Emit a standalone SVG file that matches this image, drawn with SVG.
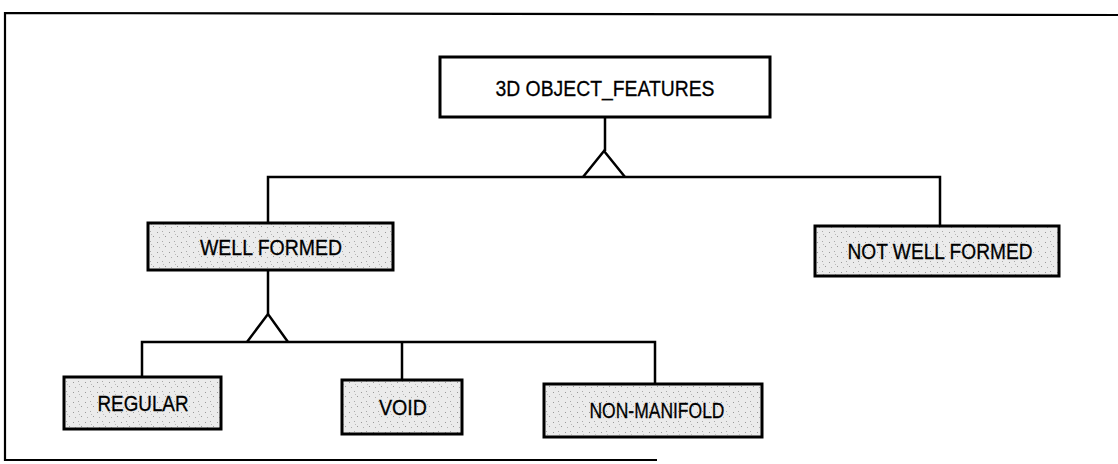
<svg xmlns="http://www.w3.org/2000/svg" width="1118" height="464" viewBox="0 0 1118 464">
  <defs>
    <pattern id="stipple" width="12" height="10" patternUnits="userSpaceOnUse">
      <rect width="12" height="10" fill="#ebebeb"/>
      <rect x="1" y="2" width="1" height="1" fill="#999"/>
      <rect x="6" y="1" width="1" height="1" fill="#aaa"/>
      <rect x="9" y="6" width="1" height="1" fill="#999"/>
      <rect x="3" y="7" width="1" height="1" fill="#b0b0b0"/>
      <rect x="7" y="4" width="1" height="1" fill="#bbb"/>
    </pattern>
    <style>
      .box { stroke: #000; stroke-width: 3; }
      .white { fill: #fff; }
      .gray { fill: url(#stipple); }
      .lbl { font-family: "Liberation Sans", Arial, sans-serif; font-size: 22px; fill: #000; stroke: #000; stroke-width: 0.3; text-anchor: middle; }
      .line { stroke: #000; stroke-width: 2.5; fill: none; }
      .frame { stroke: #000; stroke-width: 2.2; fill: none; }
    </style>
  </defs>
  <rect width="1118" height="464" fill="#fff"/>
  <path class="frame" d="M1118,15 L5,13 L5,460 L657,460"/>

  <g id="connectors">
    <path class="line" d="M605,117 V151"/>
    <path class="line" d="M583,177 L604,151 L625,177"/>
    <path class="line" d="M268,223 V177 H940 V226"/>
    <path class="line" d="M268,270 V314"/>
    <path class="line" d="M247,342 L268,314 L288,342"/>
    <path class="line" d="M142,377 V342 H655 V384"/>
    <path class="line" d="M402,342 V380"/>
  </g>

  <g id="node-3d-object-features">
    <rect class="box white" x="440" y="57" width="330" height="60"/>
    <text class="lbl" x="605" y="96" textLength="219" lengthAdjust="spacingAndGlyphs">3D OBJECT_FEATURES</text>
  </g>
  <g id="node-well-formed">
    <rect class="box gray" x="148" y="223" width="245" height="47"/>
    <text class="lbl" x="271" y="255" textLength="142" lengthAdjust="spacingAndGlyphs">WELL FORMED</text>
  </g>
  <g id="node-not-well-formed">
    <rect class="box gray" x="815" y="226" width="244" height="50"/>
    <text class="lbl" x="940" y="259" textLength="185" lengthAdjust="spacingAndGlyphs">NOT WELL FORMED</text>
  </g>
  <g id="node-regular">
    <rect class="box gray" x="64" y="377" width="157" height="52"/>
    <text class="lbl" x="143" y="411" textLength="91" lengthAdjust="spacingAndGlyphs">REGULAR</text>
  </g>
  <g id="node-void">
    <rect class="box gray" x="342" y="380" width="120" height="54"/>
    <text class="lbl" x="403" y="415" textLength="48" lengthAdjust="spacingAndGlyphs">VOID</text>
  </g>
  <g id="node-non-manifold">
    <rect class="box gray" x="544" y="384" width="218" height="53"/>
    <text class="lbl" x="657" y="418" textLength="135" lengthAdjust="spacingAndGlyphs">NON-MANIFOLD</text>
  </g>
</svg>
